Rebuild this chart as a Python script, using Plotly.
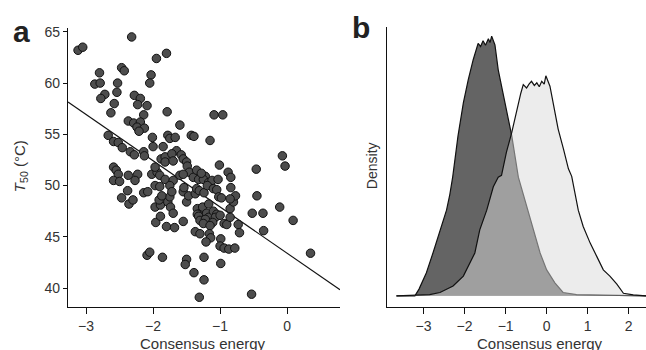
import plotly.graph_objects as go

# ---------------- Panel a data ----------------
energy_a = [-3.12, -3.05, -2.32, -1.95, -1.80, -2.80, -2.47, -2.43, -2.03, -2.87,
            -2.79, -2.53, -2.05, -2.72, -2.78, -2.54, -2.28, -2.19, -2.23, -2.09,
            -2.58, -2.63, -2.14, -1.79, -1.09, -0.96, -2.37, -2.29, -2.19, -2.24,
            -2.13, -2.21, -1.60, -2.67, -2.59, -2.52, -2.46, -2.34, -2.28, -2.14,
            -2.13, -2.01, -2.00, -1.85, -1.78, -1.75, -1.67, -1.43, -1.39, -1.15,
            -1.65, -1.88, -1.82, -1.72, -1.58, -1.55, -1.50, -1.49, -1.82, -1.70,
            -1.01, -0.88, -0.84, -0.46, -0.07, -0.03, -2.59, -2.55, -2.52, -2.37,
            -2.23, -2.02, -1.94, -1.97, -1.90, -1.82, -1.70, -1.60, -1.46, -1.40,
            -1.32, -1.35, -1.22, -1.25, -1.17, -1.12, -1.03, -1.55, -1.28, -2.59,
            -2.50, -2.27, -2.38, -2.14, -2.08, -2.47, -2.36, -2.30, -1.97, -1.90,
            -1.75, -1.97, -1.89, -1.91, -1.78, -1.75, -1.74, -1.70, -1.72, -1.87,
            -1.96, -1.89, -1.80, -1.68, -1.55, -1.55, -1.54, -1.50, -1.47, -1.37,
            -1.35, -1.31, -1.24, -1.19, -1.10, -1.05, -1.02, -0.98, -1.34, -1.28,
            -1.26, -1.34, -1.32, -1.20, -1.17, -1.30, -1.22, -1.25, -1.10, -1.05,
            -1.07, -1.11, -1.15, -1.00, -0.94, -0.90, -0.85, -0.85, -0.80, -0.77,
            -0.85, -0.84, -0.73, -0.71, -0.45, -0.52, -0.36, -0.35, -0.11, 0.09,
            0.35, -1.37, -1.30, -1.16, -1.14, -1.21, -0.99, -1.00, -0.94, -0.87,
            -0.78, -2.09, -2.05, -1.86, -1.50, -1.52, -1.24, -0.99, -1.39, -1.24,
            -1.31, -0.53, -1.17]
t50 = [63.2, 63.5, 64.5, 62.4, 62.9, 61.0, 61.5, 61.2, 60.8, 59.9,
       60.0, 60.0, 60.0, 58.9, 58.5, 59.1, 58.8, 58.5, 57.9, 57.8,
       58.0, 57.1, 56.9, 57.2, 56.9, 56.9, 56.3, 56.1, 56.2, 55.7,
       55.6, 55.3, 55.9, 54.9, 54.3, 54.2, 53.7, 53.3, 53.0, 53.3,
       52.9, 54.7, 53.8, 53.8, 54.9, 54.6, 54.7, 54.9, 54.8, 54.4,
       53.4, 52.6, 52.8, 53.1, 53.0, 52.6, 52.3, 51.9, 52.3, 52.4,
       52.0, 51.3, 50.8, 51.6, 52.9, 51.9, 51.8, 51.5, 51.1, 51.0,
       51.1, 51.1, 51.3, 51.8, 51.0, 50.6, 50.5, 51.0, 51.3, 50.8,
       50.6, 51.5, 50.9, 50.6, 50.3, 50.5, 50.6, 51.1, 51.2, 50.5,
       50.4, 50.5, 49.5, 49.3, 49.4, 48.8, 48.2, 48.6, 50.0, 49.9,
       50.0, 47.9, 48.1, 48.6, 48.4, 48.9, 47.9, 47.3, 49.4, 49.0,
       46.4, 47.0, 46.0, 45.9, 46.5, 49.4, 49.8, 48.4, 49.0, 49.2,
       49.7, 49.5, 49.3, 50.0, 49.7, 49.6, 48.9, 48.8, 47.75, 47.4,
       47.9, 47.2, 47.0, 47.3, 46.9, 46.6, 46.7, 46.3, 47.5, 47.2,
       46.9, 46.4, 46.1, 47.1, 46.3, 46.2, 47.75, 46.9, 48.4, 49.0,
       48.7, 49.8, 46.2, 45.4, 49.0, 47.3, 47.3, 45.6, 47.9, 46.6,
       43.4, 45.5, 45.3, 45.3, 44.9, 44.5, 44.8, 44.1, 43.9, 43.8,
       43.9, 43.2, 43.5, 43.0, 42.8, 42.3, 43.0, 42.4, 41.5, 40.8,
       39.1, 39.4, 48.2]

reg_slope = -4.51
reg_intercept = 43.4

a_xticks = [-3, -2, -1, 0]
a_yticks = [40, 45, 50, 55, 60, 65]

# ---------------- Panel b data ----------------
dark_x = [-3.66, -3.21, -3.11, -2.93, -2.77, -2.56, -2.44, -2.36, -2.29, -2.16,
          -2.03, -1.91, -1.79, -1.67, -1.61, -1.55, -1.49, -1.42, -1.38, -1.34,
          -1.30, -1.26, -1.18, -1.06, -0.94, -0.85, -0.69, -0.57, -0.41, -0.29,
          -0.16, 0.0, 0.20, 0.40, 0.73, 2.42]
dark_density = [0, 0, 0.026, 0.089, 0.165, 0.267, 0.33, 0.39, 0.457, 0.616,
                0.743, 0.832, 0.909, 0.972, 0.96, 0.982, 0.965, 0.99, 0.975, 1.0,
                0.985, 0.966, 0.87, 0.78, 0.68, 0.616, 0.457, 0.39, 0.305, 0.229,
                0.165, 0.10, 0.05, 0.013, 0.005, 0]
light_x = [-3.66, -2.85, -2.60, -2.28, -2.03, -1.87, -1.75, -1.63, -1.46, -1.30,
           -1.18, -1.10, -0.98, -0.85, -0.73, -0.63, -0.57, -0.49, -0.43, -0.37,
           -0.30, -0.24, -0.18, -0.12, -0.06, -0.02, 0.08, 0.16, 0.28, 0.41,
           0.53, 0.61, 0.69, 0.77, 0.89, 1.06, 1.22, 1.38, 1.54, 1.71,
           1.87, 2.11, 2.42]
light_density = [0, 0.005, 0.013, 0.038, 0.076, 0.127, 0.165, 0.254, 0.33, 0.42,
                 0.457, 0.464, 0.553, 0.629, 0.718, 0.78, 0.813, 0.80, 0.815, 0.826,
                 0.81, 0.82, 0.805, 0.826, 0.815, 0.847, 0.807, 0.743, 0.642, 0.565,
                 0.489, 0.46, 0.39, 0.33, 0.267, 0.203, 0.152, 0.10, 0.076, 0.045,
                 0.01, 0.004, 0]
b_xticks = [-3, -2, -1, 0, 1, 2]

# ---------------- Figure ----------------
W, H = 646, 350
FONT = "Liberation Sans, Arial, Helvetica, sans-serif"
TICKCOL = "#333333"

a_xrange = [-3.27, 0.79]
a_yrange = [38.2, 65.4]
b_xrange = [-3.89, 2.42]
b_yrange = [-0.041, 1.036]

fig = go.Figure()

fig.add_trace(go.Scatter(
    x=a_xrange, y=[reg_intercept + reg_slope * v for v in a_xrange],
    mode="lines", line=dict(color="#111111", width=1.1),
    xaxis="x", yaxis="y", showlegend=False, hoverinfo="skip"))
fig.add_trace(go.Scatter(
    x=energy_a, y=t50, mode="markers",
    marker=dict(size=8.5, color="#4d4d4d", line=dict(color="#111111", width=1)),
    xaxis="x", yaxis="y", showlegend=False))

fig.add_trace(go.Scatter(
    x=dark_x, y=dark_density, mode="lines", fill="tozeroy",
    fillcolor="rgb(100,100,100)", line=dict(color="#111111", width=1.2),
    xaxis="x2", yaxis="y2", showlegend=False))
fig.add_trace(go.Scatter(
    x=light_x, y=light_density, mode="lines", fill="tozeroy",
    fillcolor="rgba(217,217,217,0.5)", line=dict(color="#111111", width=1.2),
    xaxis="x2", yaxis="y2", showlegend=False))

def px2x(p):
    return p / W

def py2y(p):
    return 1 - p / H

axis_common = dict(showgrid=False, zeroline=False, showline=True,
                   linecolor="#111111", linewidth=1.4, ticks="outside",
                   tickwidth=1, tickcolor="#111111",
                   tickfont=dict(family=FONT, size=14, color=TICKCOL))

fig.update_layout(
    width=W, height=H, margin=dict(l=0, r=0, t=0, b=0),
    paper_bgcolor="white", plot_bgcolor="white",
    font=dict(family=FONT, color=TICKCOL),
    xaxis=dict(domain=[px2x(68), px2x(340)], range=a_xrange,
               tickvals=a_xticks, anchor="y", ticklen=6, **axis_common),
    yaxis=dict(domain=[py2y(306), py2y(24)], range=a_yrange,
               tickvals=a_yticks, anchor="x", ticklen=4, **axis_common),
    xaxis2=dict(domain=[px2x(387), 1.0], range=b_xrange,
                tickvals=b_xticks, anchor="y2", ticklen=6, **axis_common),
    yaxis2=dict(domain=[py2y(306), py2y(23)], range=b_yrange,
                anchor="x2", showticklabels=False,
                **{k: v for k, v in axis_common.items() if k != "ticks"},
                ticks=""),
)

annotations = [
    dict(text="<b>a</b>", x=px2x(21), y=py2y(28), font=dict(size=30, color="#222222")),
    dict(text="<b>b</b>", x=px2x(361), y=py2y(24), font=dict(size=30, color="#222222")),
    dict(text="Consensus energy", x=px2x(203), y=py2y(343), font=dict(size=15, color=TICKCOL)),
    dict(text="Consensus energy", x=px2x(540), y=py2y(343), font=dict(size=15, color=TICKCOL)),
    dict(text="<i>T</i><sub>50</sub> (°C)", x=px2x(20), y=py2y(164), textangle=-90,
         font=dict(size=15, color=TICKCOL)),
    dict(text="Density", x=px2x(372), y=py2y(164), textangle=-90,
         font=dict(size=14, color=TICKCOL)),
]
for a in annotations:
    a.update(xref="paper", yref="paper", showarrow=False,
             xanchor="center", yanchor="middle")
    a["font"]["family"] = FONT
fig.update_layout(annotations=annotations)

fig.write_html("out.html", config={"displayModeBar": False},
               post_script="document.body.style.margin='0';document.body.style.overflow='hidden';")
